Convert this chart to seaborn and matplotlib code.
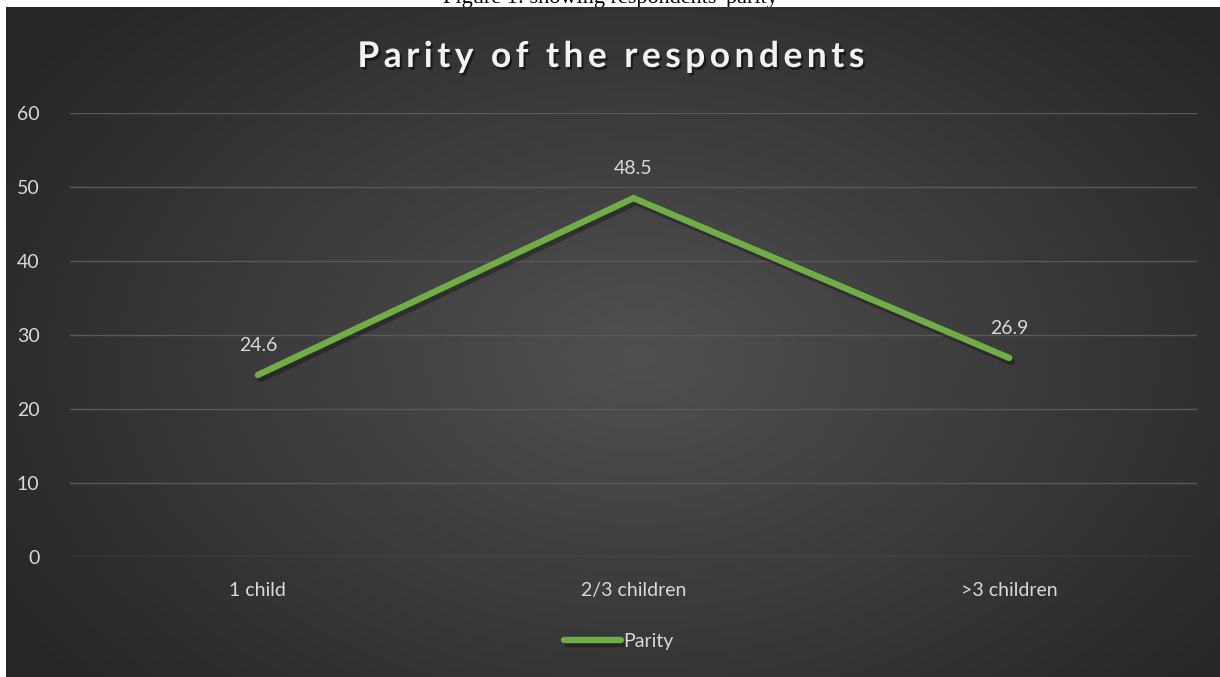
import numpy as np
import pandas as pd
import matplotlib
matplotlib.use("Agg")
import matplotlib.pyplot as plt
import matplotlib.patheffects as pe
import seaborn as sns

categories = ["1 child", "2/3 children", ">3 children"]
values = [24.6, 48.5, 26.9]
series_name = "Parity"
y_ticks = [0, 10, 20, 30, 40, 50, 60]
title = "Parity of the respondents"
caption = "Figure 1: showing respondents' parity"

sns.set_theme(style="dark")
plt.rcParams["font.family"] = ["Lato", "DejaVu Sans"]

W, H = 1220, 677
fig = plt.figure(figsize=(W / 100, H / 100), dpi=100)
fig.patch.set_facecolor("white")

# caption partly hidden behind the chart image
fig.text(0.5, 1 - 2.5 / H, caption, ha="center", va="baseline", fontsize=16,
         family="Liberation Serif", color="black", zorder=-5)

# background with radial gradient
bg = fig.add_axes([6 / W, 0, 1 - 6 / W, 1 - 7 / H], zorder=-1)
ny, nx = 300, 540
yy, xx = np.mgrid[0:ny, 0:nx]
cx, cy = nx * 0.52, ny * 0.52
r = np.sqrt(((xx - cx) / (nx * 0.62)) ** 2 + ((yy - cy) / (ny * 0.75)) ** 2)
r = np.clip(r, 0, 1)
inner, outer = np.array([0x50, 0x50, 0x50]) / 255, np.array([0x26, 0x26, 0x26]) / 255
img = inner[None, None, :] * (1 - r[..., None]) + outer[None, None, :] * r[..., None]
bg.imshow(img, aspect="auto", extent=[0, 1, 0, 1], interpolation="bilinear")
bg.set_axis_off()

ax = fig.add_axes([70 / W, 1 - 557 / H, (1197 - 70) / W, (557 - 113) / H])
ax.set_facecolor("none")
ax.patch.set_alpha(0)

df = pd.DataFrame({"category": categories, "value": values})
sns.lineplot(data=df, x="category", y="value", ax=ax, color="#70AD47",
             linewidth=4.6, solid_capstyle="round", solid_joinstyle="miter",
             label=series_name, sort=False,
             path_effects=[pe.SimpleLineShadow(offset=(2, -3), alpha=0.3, shadow_color="black"),
                           pe.Normal()])

for i, v in enumerate(values):
    ax.annotate(f"{v}", (i, v), xytext=(0, 15), textcoords="offset points",
                ha="center", va="bottom", fontsize=14, color="#D9D9D9")

ax.set_ylim(0, 60)
ax.set_xlim(-0.5, 2.5)
ax.set_yticks(y_ticks)
ax.set_yticklabels([str(t) for t in y_ticks])
ax.yaxis.grid(True, color="#595959", linewidth=1)
ax.xaxis.grid(False)
for s in ax.spines.values():
    s.set_visible(False)
ax.tick_params(axis="both", length=0, colors="#D9D9D9", labelsize=14)
ax.tick_params(axis="y", pad=22)
ax.tick_params(axis="x", pad=18)
ax.set_xlabel("")
ax.set_ylabel("")

ax.legend(loc="center", bbox_to_anchor=(619 / W, 1 - 641 / H), bbox_transform=fig.transFigure,
          frameon=False, fontsize=14, handlelength=2.9, handletextpad=0.15,
          labelcolor="#D9D9D9")

spaced_title = "\u2009".join(title)
fig.text(0.5, 1 - 57 / H, spaced_title, ha="center", va="center", fontsize=25.5,
         fontweight="bold", color="#F2F2F2", family=["Lato", "DejaVu Sans"],
         path_effects=[pe.withSimplePatchShadow(offset=(1.5, -2), alpha=0.5, shadow_rgbFace="black")])

fig.savefig("out.png", dpi=100)
